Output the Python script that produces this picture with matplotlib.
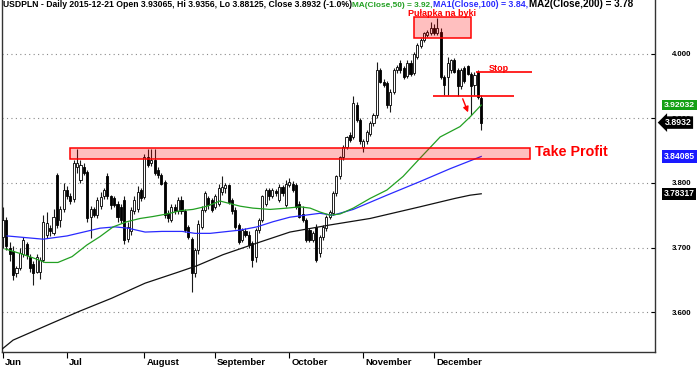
import numpy as np
import matplotlib
matplotlib.use("Agg")
import matplotlib.pyplot as plt
from matplotlib.patches import Rectangle, FancyArrowPatch
from matplotlib.transforms import ScaledTranslation, blended_transform_factory

plt.rcParams['font.family'] = ['Liberation Sans', 'DejaVu Sans']

# USDPLN daily, 2015-06-04 .. 2015-12-21
opens = [3.717, 3.743, 3.700, 3.695, 3.660, 3.668, 3.690, 3.705, 3.685, 3.675,
         3.663, 3.662, 3.681, 3.720, 3.730, 3.722, 3.812, 3.742, 3.760, 3.789,
         3.780, 3.775, 3.825, 3.805, 3.825, 3.817, 3.748, 3.760, 3.750, 3.765,
         3.779, 3.810, 3.779, 3.776, 3.768, 3.763, 3.774, 3.714, 3.725, 3.756,
         3.760, 3.789, 3.778, 3.840, 3.830, 3.835, 3.820, 3.812, 3.802, 3.753,
         3.743, 3.763, 3.756, 3.774, 3.756, 3.732, 3.714, 3.660, 3.696, 3.732,
         3.758, 3.776, 3.773, 3.763, 3.768, 3.786, 3.792, 3.796, 3.773, 3.758,
         3.735, 3.711, 3.725, 3.719, 3.707, 3.686, 3.727, 3.743, 3.768, 3.789,
         3.779, 3.787, 3.774, 3.794, 3.766, 3.797, 3.799, 3.797, 3.768, 3.752,
         3.743, 3.727, 3.712, 3.732, 3.691, 3.717, 3.730, 3.748, 3.753, 3.784,
         3.810, 3.840, 3.856, 3.874, 3.871, 3.920, 3.897, 3.856, 3.864, 3.876,
         3.892, 3.905, 3.974, 3.956, 3.954, 3.920, 3.941, 3.974, 3.985, 3.977,
         3.965, 3.985, 3.970, 3.995, 4.011, 4.021, 4.029, 4.031, 4.039, 4.031,
         4.034, 3.964, 3.964, 3.975, 3.990, 3.975, 3.949, 3.977, 3.980, 3.969,
         3.951, 3.972, 3.93065]
highs = [3.763, 3.748, 3.708, 3.703, 3.672, 3.700, 3.716, 3.708, 3.690, 3.680,
         3.690, 3.686, 3.750, 3.755, 3.735, 3.760, 3.815, 3.765, 3.800, 3.795,
         3.785, 3.835, 3.853, 3.835, 3.830, 3.820, 3.765, 3.762, 3.778, 3.786,
         3.792, 3.815, 3.782, 3.780, 3.772, 3.768, 3.780, 3.740, 3.762, 3.780,
         3.795, 3.792, 3.845, 3.852, 3.852, 3.852, 3.825, 3.815, 3.805, 3.758,
         3.768, 3.768, 3.778, 3.780, 3.760, 3.735, 3.716, 3.700, 3.742, 3.765,
         3.787, 3.780, 3.776, 3.783, 3.798, 3.810, 3.800, 3.798, 3.776, 3.762,
         3.738, 3.730, 3.730, 3.725, 3.710, 3.730, 3.746, 3.782, 3.792, 3.792,
         3.792, 3.790, 3.798, 3.796, 3.805, 3.808, 3.803, 3.800, 3.772, 3.765,
         3.746, 3.730, 3.725, 3.736, 3.720, 3.735, 3.750, 3.758, 3.787, 3.812,
         3.842, 3.858, 3.873, 3.878, 3.935, 3.925, 3.900, 3.868, 3.882, 3.895,
         3.908, 3.987, 3.978, 3.960, 3.957, 3.945, 3.978, 3.982, 3.990, 3.980,
         3.990, 3.990, 4.002, 4.016, 4.024, 4.033, 4.036, 4.048, 4.045, 4.055,
         4.040, 3.967, 3.995, 3.992, 3.993, 3.978, 3.978, 3.980, 3.982, 3.972,
         3.972, 3.974, 3.9356]
lows = [3.699, 3.697, 3.680, 3.650, 3.655, 3.665, 3.685, 3.683, 3.662, 3.642,
        3.660, 3.652, 3.678, 3.715, 3.718, 3.719, 3.730, 3.732, 3.755, 3.775,
        3.768, 3.770, 3.815, 3.800, 3.812, 3.740, 3.715, 3.747, 3.745, 3.760,
        3.775, 3.775, 3.760, 3.762, 3.740, 3.738, 3.706, 3.708, 3.720, 3.752,
        3.755, 3.772, 3.775, 3.825, 3.826, 3.812, 3.808, 3.796, 3.745, 3.740,
        3.740, 3.752, 3.752, 3.752, 3.724, 3.714, 3.632, 3.655, 3.690, 3.728,
        3.755, 3.760, 3.755, 3.760, 3.765, 3.782, 3.785, 3.768, 3.752, 3.728,
        3.705, 3.708, 3.716, 3.700, 3.670, 3.678, 3.722, 3.740, 3.765, 3.774,
        3.776, 3.780, 3.770, 3.780, 3.762, 3.794, 3.786, 3.760, 3.745, 3.740,
        3.709, 3.708, 3.709, 3.678, 3.686, 3.712, 3.726, 3.744, 3.750, 3.780,
        3.806, 3.836, 3.852, 3.863, 3.868, 3.894, 3.860, 3.848, 3.860, 3.872,
        3.888, 3.900, 3.954, 3.948, 3.915, 3.910, 3.938, 3.970, 3.970, 3.960,
        3.962, 3.965, 3.966, 3.992, 4.008, 4.018, 4.025, 4.028, 4.028, 4.028,
        3.960, 3.936, 3.936, 3.970, 3.970, 3.935, 3.945, 3.955, 3.966, 3.905,
        3.936, 3.930, 3.88125]
closes = [3.743, 3.702, 3.690, 3.658, 3.668, 3.692, 3.712, 3.688, 3.668, 3.660,
          3.686, 3.681, 3.740, 3.738, 3.725, 3.748, 3.735, 3.760, 3.789, 3.780,
          3.772, 3.830, 3.830, 3.828, 3.815, 3.745, 3.760, 3.750, 3.773, 3.778,
          3.789, 3.779, 3.766, 3.766, 3.748, 3.743, 3.712, 3.732, 3.758, 3.774,
          3.786, 3.776, 3.840, 3.828, 3.835, 3.815, 3.812, 3.799, 3.750, 3.745,
          3.763, 3.756, 3.774, 3.756, 3.727, 3.717, 3.660, 3.696, 3.737, 3.758,
          3.784, 3.766, 3.758, 3.779, 3.792, 3.794, 3.796, 3.771, 3.756, 3.732,
          3.709, 3.727, 3.720, 3.704, 3.681, 3.727, 3.743, 3.779, 3.789, 3.779,
          3.789, 3.784, 3.794, 3.784, 3.799, 3.802, 3.789, 3.763, 3.748, 3.743,
          3.712, 3.712, 3.722, 3.681, 3.717, 3.732, 3.748, 3.755, 3.784, 3.810,
          3.840, 3.856, 3.871, 3.866, 3.923, 3.897, 3.864, 3.864, 3.879, 3.892,
          3.905, 3.974, 3.956, 3.951, 3.920, 3.941, 3.974, 3.979, 3.975, 3.964,
          3.985, 3.968, 4.000, 4.013, 4.021, 4.031, 4.034, 4.039, 4.031, 4.039,
          3.964, 3.951, 3.985, 3.990, 3.972, 3.949, 3.975, 3.957, 3.969, 3.949,
          3.967, 3.933, 3.8932]

# moving averages, sampled along the chart (bar index, value)
ma50_x = [0.6, 5, 9, 12.5, 16.3, 20.5, 24.9, 28.8, 32.7, 36.8, 40.7, 44.5, 48.7, 52.6,
          56.4, 60.6, 64.4, 70.4, 74.2, 79.3, 84.3, 88.2, 91.2, 94.1, 97.1, 100.1,
          104, 109, 114, 118.8, 123.8, 129.8, 135.7, 138.7, 142]
ma50_v = [3.698, 3.691, 3.684, 3.677, 3.677, 3.686, 3.704, 3.717, 3.732, 3.740, 3.745,
          3.748, 3.752, 3.757, 3.759, 3.764, 3.772, 3.764, 3.761, 3.759, 3.761, 3.763,
          3.761, 3.755, 3.750, 3.752, 3.761, 3.776, 3.789, 3.810, 3.838, 3.871, 3.887,
          3.902, 3.92032]
ma100_x = [1.2, 11.9, 19, 28.8, 33.3, 37.1, 42.2, 47.2, 53.2, 57, 61.5, 70.4, 75.4,
           80.2, 85.2, 94.1, 98, 104, 114, 123.8, 132.8, 142]
ma100_v = [3.718, 3.713, 3.718, 3.730, 3.732, 3.730, 3.724, 3.725, 3.725, 3.722, 3.722,
           3.727, 3.732, 3.740, 3.747, 3.753, 3.750, 3.759, 3.781, 3.802, 3.822, 3.84085]
ma200_x = [-0.3, 3, 14, 22.9, 32.4, 42.2, 52, 57.6, 65.3, 75.4, 85.2, 97.1, 109,
           123.8, 134.2, 138.7, 142]
ma200_v = [3.543, 3.557, 3.582, 3.602, 3.622, 3.645, 3.662, 3.672, 3.689, 3.707, 3.724,
           3.735, 3.745, 3.763, 3.776, 3.781, 3.78317]

month_idx = [0, 19, 42, 63, 85, 107, 128]
month_names = ['Jun', 'Jul', 'August', 'September', 'October', 'November', 'December']
price_ticks = [3.6, 3.7, 3.8, 3.9, 4.0]

opens = np.array(opens)
closes = np.array(closes)
highs = np.array(highs)
lows = np.array(lows)
idx = np.arange(len(closes))

fig = plt.figure(figsize=(6.98, 3.67), dpi=100)
ax = fig.add_axes([2 / 698, 15 / 367, 653 / 698, 352 / 367])
renderer = fig.canvas.get_renderer()


def fit(t, width_px):
    # scale a text so that it takes the width it has in the original
    w = t.get_window_extent(renderer).width
    t.set_fontsize(t.get_fontsize() * width_px / w)


# candles
ax.vlines(idx, lows, highs, color='#1a1a1a', lw=0.8, zorder=2)
up = closes >= opens
ax.bar(idx[up], (closes - opens)[up], bottom=opens[up], width=0.62,
       color='white', edgecolor='black', lw=0.6, zorder=3)
ax.bar(idx[~up], (opens - closes)[~up], bottom=closes[~up], width=0.62,
       color='black', edgecolor='black', lw=0.6, zorder=3)

# moving averages
ax.plot(ma200_x, ma200_v, color='#111111', lw=0.9, zorder=4)
ax.plot(ma100_x, ma100_v, color='#2a2aff', lw=0.9, zorder=4)
ax.plot(ma50_x, ma50_v, color='#22a022', lw=0.9, zorder=4)

# annotations drawn on the chart
ax.add_patch(Rectangle((19.9, 3.8365), 136.6, 0.017, fc=(1, 0, 0, 0.25),
                       ec='red', lw=1.1, zorder=5))
ax.add_patch(Rectangle((121.9, 4.0235), 17.0, 0.0325, fc=(1, 0, 0, 0.25),
                       ec='red', lw=1.1, zorder=5))
ax.hlines(3.934, 127.8, 151.6, color='red', lw=1.2, zorder=5)
ax.hlines(3.972, 140.5, 157.2, color='red', lw=1.2, zorder=5)
ax.add_patch(FancyArrowPatch((136.2, 3.934), (138.4, 3.905), arrowstyle='-|>',
                             mutation_scale=8, color='red', lw=1, zorder=6))
t = ax.text(130.4, 4.062, 'Pułapka na byki', color='red', fontsize=8,
            fontweight='bold', ha='center', va='center', zorder=6)
fit(t, 69)
t = ax.text(144.2, 3.9765, 'Stop', color='red', fontsize=8, fontweight='bold',
            ha='left', va='center', zorder=6)
fit(t, 20)
t = ax.text(158.0, 3.848, 'Take Profit', color='red', fontsize=8, fontweight='bold',
            ha='left', va='center', zorder=6)
fit(t, 73)

# axes
ax.set_xlim(-0.3, 193.6)
ax.set_ylim(3.5386, 4.0827)
ax.spines['top'].set_visible(False)
for s in ['left', 'right', 'bottom']:
    ax.spines[s].set_color('#333333')
    ax.spines[s].set_linewidth(1.0)

ax.yaxis.tick_right()
ax.set_yticks(price_ticks)
ax.set_yticklabels(['%.3f' % v for v in price_ticks])
ax.grid(axis='y', color='#8a8a8a', ls=(0, (1, 3)), lw=0.8)
ax.set_xticks(month_idx)
ax.set_xticklabels(month_names, ha='left')

probe = fig.text(0, 0, '4.000', fontsize=8, fontweight='bold')
fit(probe, 20)
ysize = probe.get_fontsize()
probe.set_text('September')
probe.set_fontsize(8)
fit(probe, 49)
xsize = probe.get_fontsize()
probe.remove()

ax.tick_params(axis='y', direction='in', length=3, pad=12, labelsize=ysize)
ax.tick_params(axis='x', direction='out', length=4, pad=0.5, labelsize=xsize)
shift = ScaledTranslation(2 / 100, 0, fig.dpi_scale_trans)
for lab in ax.get_xticklabels():
    lab.set_transform(lab.get_transform() + shift)
for lab in ax.get_xticklabels() + ax.get_yticklabels():
    lab.set_fontweight('bold')

# value boxes on the price axis
trans = blended_transform_factory(ax.transAxes, ax.transData)
boxes = [(ma50_v[-1], '%.5f' % ma50_v[-1], '#13a013', 'square', 31),
         (ma100_v[-1], '%.5f' % ma100_v[-1], '#1a1aff', 'square', 31),
         (ma200_v[-1], '%.5f' % ma200_v[-1], 'black', 'square', 31),
         (closes[-1], '%.4f' % closes[-1], 'black', 'larrow', 27)]
for val, txt, col, style, w in boxes:
    x0 = 1.0135 if style == 'square' else 1.0145
    t = ax.text(x0, val, txt, transform=trans, ha='left', va='center', color='white',
                fontsize=7, fontweight='bold', zorder=7, clip_on=False,
                bbox=dict(boxstyle=style + ',pad=0.2', fc=col, ec='none'))
    fit(t, w)

# header line
head = [(3, 'USDPLN - Daily 2015-12-21 Open 3.93065, Hi 3.9356, Lo 3.88125, Close 3.8932 (-1.0%)', 'black', 344),
        (352, 'MA(Close,50) = 3.92,', '#22a022', 80),
        (433, 'MA1(Close,100) = 3.84,', '#2a2aff', 94),
        (529, 'MA2(Close,200) = 3.78', 'black', 104)]
for px, txt, col, w in head:
    t = fig.text(px / 698, 1 - 7 / 367, txt, color=col, fontsize=7.5,
                 fontweight='bold', va='baseline', ha='left')
    fit(t, w)

fig.savefig('out.png', dpi=100)
